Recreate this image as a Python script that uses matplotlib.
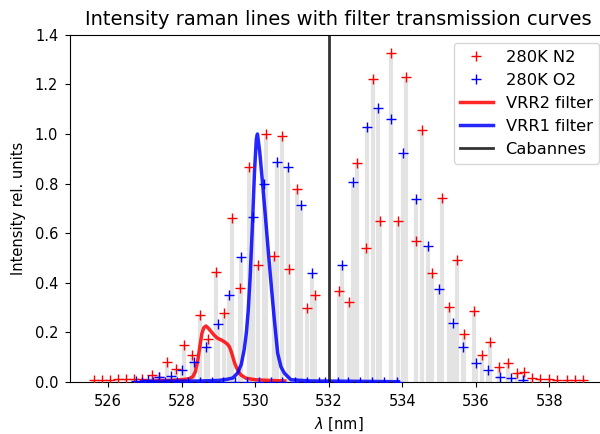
import matplotlib
matplotlib.use("Agg")
import matplotlib.pyplot as plt
import numpy as np

# N2 rotational raman lines (nm, rel. intensity)
n2_wl = [525.62, 525.84, 526.05, 526.27, 526.48, 526.71, 526.93, 527.18, 527.39, 527.61,
         527.84, 528.06, 528.29, 528.50, 528.72, 528.94, 529.15, 529.36, 529.59, 529.84,
         530.07, 530.29, 530.52, 530.72, 530.93, 531.14, 531.40, 531.62,
         532.29, 532.56, 532.78, 533.00, 533.21, 533.40, 533.68, 533.89, 534.11, 534.36,
         534.55, 534.82, 535.07, 535.26, 535.48, 535.67, 535.94, 536.16, 536.38, 536.62,
         536.87, 537.11, 537.30, 537.52, 537.76, 537.98, 538.20, 538.47, 538.69, 538.91]
n2_int = [0.007, 0.007, 0.007, 0.010, 0.010, 0.010, 0.010, 0.027, 0.021, 0.079,
          0.050, 0.148, 0.108, 0.269, 0.172, 0.444, 0.279, 0.659, 0.380, 0.865,
          0.471, 0.999, 0.508, 0.992, 0.454, 0.780, 0.296, 0.350,
          0.366, 0.321, 0.882, 0.539, 1.221, 0.648, 1.329, 0.648, 1.229, 0.567,
          1.015, 0.438, 0.741, 0.301, 0.491, 0.192, 0.285, 0.108, 0.160, 0.060,
          0.075, 0.035, 0.039, 0.015, 0.011, 0.011, 0.007, 0.007, 0.007, 0.007]

# O2 rotational raman lines
o2_wl = [526.75, 527.07, 527.39, 527.71, 528.02, 528.34, 528.66, 528.98, 529.28, 529.62,
         529.93, 530.25, 530.59, 530.89, 531.25, 531.55,
         532.37, 532.67, 533.05, 533.33, 533.68, 534.01, 534.36, 534.69, 534.99, 535.37,
         535.64, 536.00, 536.32, 536.65, 536.97, 537.29]
o2_int = [0.004, 0.008, 0.017, 0.022, 0.046, 0.079, 0.140, 0.232, 0.352, 0.504,
          0.663, 0.800, 0.885, 0.865, 0.715, 0.440,
          0.470, 0.805, 1.027, 1.104, 1.059, 0.922, 0.737, 0.547, 0.374, 0.237,
          0.140, 0.076, 0.047, 0.019, 0.015, 0.006]
# O2 lines with zero weight
o2_zero_wl = [526.91, 527.23, 527.55, 527.87, 528.18, 528.50, 528.82, 529.13, 529.45, 529.78,
              530.09, 530.42, 530.74, 531.07, 531.40, 531.73, 531.91, 532.24, 532.52, 532.86,
              533.19, 533.50, 533.85]

# filter transmission curves
vrr2_wl = [527.10, 527.60, 528.00, 528.20, 528.30, 528.37, 528.44, 528.50, 528.55, 528.60,
           528.66, 528.73, 528.80, 528.90, 528.98, 529.08, 529.16, 529.24, 529.30, 529.35,
           529.39, 529.44, 529.48, 529.55, 529.61, 529.75, 530.00, 530.40, 530.80]
vrr2_tr = [0.002, 0.005, 0.008, 0.012, 0.020, 0.040, 0.090, 0.150, 0.195, 0.218,
           0.225, 0.215, 0.202, 0.185, 0.175, 0.168, 0.161, 0.152, 0.140, 0.120,
           0.100, 0.075, 0.060, 0.040, 0.027, 0.014, 0.008, 0.005, 0.003]

vrr1_wl = [526.90, 527.50, 528.50, 529.00, 529.24, 529.39, 529.52, 529.62, 529.70, 529.76,
           529.81, 529.86, 529.92, 529.98, 530.03, 530.06, 530.12, 530.20, 530.28, 530.36,
           530.44, 530.52, 530.61, 530.70, 530.79, 530.97, 531.50, 532.50, 533.90]
vrr1_tr = [0.000, 0.002, 0.003, 0.005, 0.010, 0.015, 0.035, 0.070, 0.130, 0.200,
           0.290, 0.420, 0.620, 0.850, 0.980, 1.000, 0.930, 0.800, 0.660, 0.518,
           0.380, 0.249, 0.115, 0.060, 0.035, 0.008, 0.003, 0.002, 0.000]

cabannes = 532.0

fig = plt.figure(figsize=(6, 4.34), dpi=100)
ax = fig.add_axes([70/600, 0.1205, 537/600, 0.799])

ax.vlines(n2_wl, 0, n2_int, color="0.89", lw=3, zorder=1)
ax.vlines(o2_wl, 0, o2_int, color="0.89", lw=3, zorder=1)

ax.plot(n2_wl, n2_int, "r+", ms=7.5, label="280K N2", zorder=3)
ax.plot(o2_wl, o2_int, "b+", ms=7.5, label="280K O2", zorder=3)
ax.plot(o2_zero_wl, np.zeros(len(o2_zero_wl)), "b+", ms=7.5, zorder=3)
ax.plot(vrr2_wl, vrr2_tr, color="r", lw=2.5, alpha=0.85, label="VRR2 filter", zorder=2)
ax.plot(vrr1_wl, vrr1_tr, color="b", lw=2.5, alpha=0.85, label="VRR1 filter", zorder=2)
ax.axvline(cabannes, color="k", lw=2, alpha=0.8, label="Cabannes", zorder=2)

ax.set_xlim(524.96, 539.57)
ax.set_ylim(0, 1.4)
ax.set_xticks([526, 528, 530, 532, 534, 536, 538])
ax.tick_params(labelsize=10.5, pad=5)
ax.set_xlabel(r"$\lambda$ [nm]", fontsize=10.5, labelpad=5)
ax.set_ylabel("Intensity rel. units", fontsize=10.5, labelpad=6)
ax.set_title("Intensity raman lines with filter transmission curves", fontsize=14, pad=7)
ax.legend(loc="upper right", fontsize=11.7, numpoints=1)

fig.savefig("out.png", dpi=100)
